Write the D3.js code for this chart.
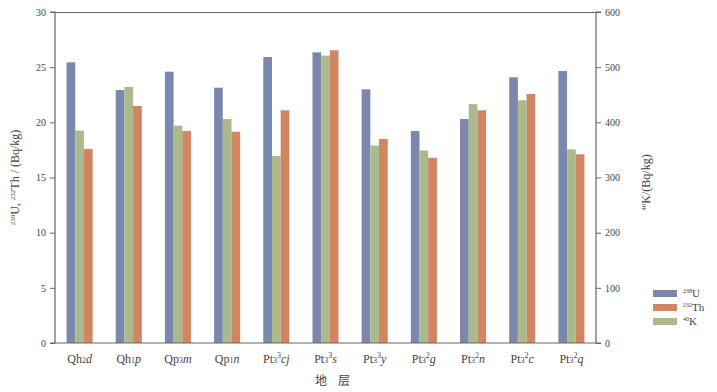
<!DOCTYPE html>
<html><head><meta charset="utf-8">
<script src="https://cdn.jsdelivr.net/npm/d3@7"></script>
<style>body{margin:0;background:#fff;} text{font-family:"Liberation Serif","DejaVu Serif",serif;fill:#444;}</style>
</head><body>
<svg id="c" width="717" height="392"></svg>
<script>
const categories = ["Qh2d","Qh1p","Qp3m","Qp1n","Pt33cj","Pt33s","Pt33y","Pt32g","Pt32n","Pt32c","Pt32q"];
// label pieces: [base, sub, sup, italic]
const labelParts = [
  ["Qh","2","","d"],["Qh","1","","p"],["Qp","3","","m"],["Qp","1","","n"],
  ["Pt","3","3","cj"],["Pt","3","3","s"],["Pt","3","3","y"],["Pt","3","2","g"],
  ["Pt","3","2","n"],["Pt","3","2","c"],["Pt","3","2","q"]
];
const U238 = [25.44,22.93,24.59,23.14,25.92,26.34,22.99,19.21,20.30,24.08,24.65];
const Th232 = [17.58,21.48,19.21,19.15,21.09,26.53,18.49,16.79,21.09,22.57,17.10];
const K40 = [385,464,394,406,339,521,358,349,433,440,351];
const leftTicks = [0,5,10,15,20,25,30];
const rightTicks = [0,100,200,300,400,500,600];

const colors = {U:"#7c87ae", Th:"#d08563", K:"#abba8c"};
const svg = d3.select("#c");
const L=55, R=596, T=12, B=343;
const x0 = d3.scaleBand().domain(categories).range([L,R]).paddingInner(0.47).paddingOuter(0.235);
const x1 = d3.scaleBand().domain(["U","K","Th"]).range([0,x0.bandwidth()]);
const yL = d3.scaleLinear().domain([0,30]).range([B,T]);
const yR = d3.scaleLinear().domain([0,600]).range([B,T]);

const g = svg.append("g");
categories.forEach((c,i)=>{
  const series=[["U",U238[i],yL],["K",K40[i],yR],["Th",Th232[i],yL]];
  series.forEach(([k,v,s])=>{
    g.append("rect").attr("x",x0(c)+x1(k)).attr("width",x1.bandwidth())
     .attr("y",s(v)).attr("height",B-s(v)).attr("fill",colors[k]);
  });
});

// frame
const ax="#666";
svg.append("line").attr("x1",L).attr("x2",R).attr("y1",T+0.5).attr("y2",T+0.5).attr("stroke",ax).attr("stroke-width",1.2);
const gl = svg.append("g").attr("transform",`translate(${L},0)`).call(d3.axisLeft(yL).tickValues(leftTicks).tickSize(5).tickPadding(4));
const gr = svg.append("g").attr("transform",`translate(${R},0)`).call(d3.axisRight(yR).tickValues(rightTicks).tickSize(5).tickPadding(4));
[gl,gr].forEach(a=>{a.select(".domain").attr("stroke",ax).attr("stroke-width",1.2);
 a.selectAll(".tick line").attr("stroke",ax);
 a.selectAll("text").style("font-family","Liberation Serif").style("font-size","10px").attr("fill","#555");});
gl.select(".domain").attr("d",`M-5,${T}H0V${B}H-5`);
gr.select(".domain").attr("d",`M5,${T}H0V${B}H5`);
const gb = svg.append("g").attr("transform",`translate(0,${B})`).call(d3.axisBottom(x0).tickSize(0).tickFormat(""));
gb.select(".domain").attr("stroke",ax).attr("stroke-width",1.2).attr("d",`M${L},0H${R}`);

// x labels
categories.forEach((c,i)=>{
  const p=labelParts[i];
  const t=svg.append("text").attr("x",x0(c)+x0.bandwidth()/2).attr("y",363)
   .attr("text-anchor","middle").style("font-size","12px");
  t.append("tspan").text(p[0]);
  t.append("tspan").text(p[1]).style("font-size","8px");
  if(p[2]) t.append("tspan").text(p[2]).style("font-size","8px").attr("dy",-5);
  t.append("tspan").text(p[3]).style("font-style","italic").attr("dy",p[2]?5:0);
});
svg.append("text").attr("x",321).attr("y",385).attr("text-anchor","middle")
 .style("font-family","Noto Sans CJK SC").style("font-size","12px").text("地");
svg.append("text").attr("x",344).attr("y",385).attr("text-anchor","middle")
 .style("font-family","Noto Sans CJK SC").style("font-size","12px").text("层");

// axis titles
const lt = svg.append("text").attr("transform",`translate(19,${(T+B)/2}) rotate(-90)`).attr("text-anchor","middle").style("font-size","12px");
lt.append("tspan").text("238").style("font-size","7px").attr("dy",-4);
lt.append("tspan").text("U, ").attr("dy",4);
lt.append("tspan").text("232").style("font-size","7px").attr("dy",-4);
lt.append("tspan").text("Th / (Bq/kg)").attr("dy",4);
const rt = svg.append("text").attr("transform",`translate(650,${(T+B)/2+5}) rotate(-90)`).attr("text-anchor","middle").style("font-size","12px");
rt.append("tspan").text("40").style("font-size","7px").attr("dy",-4);
rt.append("tspan").text("K/(Bq/kg)").attr("dy",4);

// legend
const leg=[["U","238","U"],["Th","232","Th"],["K","40","K"]];
leg.forEach((d,i)=>{
  const y=293+i*14;
  svg.append("rect").attr("x",653).attr("y",y-3).attr("width",24).attr("height",7).attr("fill",colors[d[0]]);
  const t=svg.append("text").attr("x",683).attr("y",y+4).style("font-size","11px");
  t.append("tspan").text(d[1]).style("font-size","6px").attr("dy",-4);
  t.append("tspan").text(d[2]).attr("dy",4);
});
</script>
</body></html>
